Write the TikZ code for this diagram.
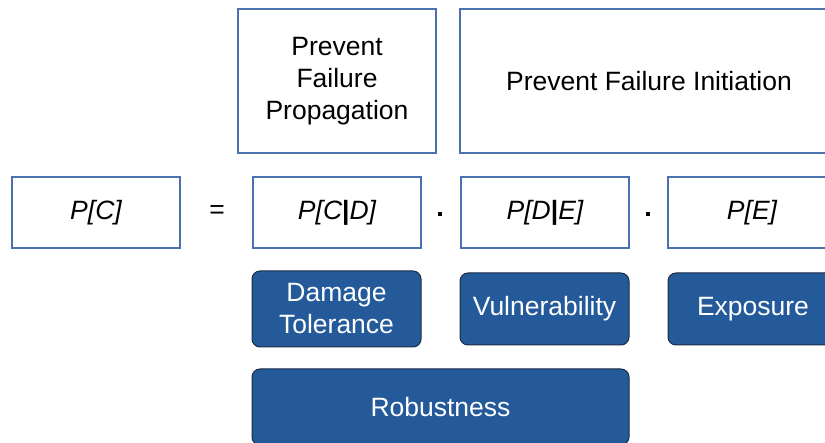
\documentclass[tikz,border=0pt]{standalone}
\usepackage{fontspec}
\setmainfont{Liberation Sans}
\definecolor{boxline}{HTML}{4A72B0}
\definecolor{bluefill}{HTML}{245A9A}
\definecolor{blueline}{HTML}{1B2D45}
\begin{document}
\begin{tikzpicture}[x=1pt,y=-1pt,
  every node/.style={font=\fontsize{26.5}{32}\selectfont, align=center, inner sep=0pt},
  wbox/.style={draw=boxline, line width=1.1pt, fill=white},
  bbox/.style={draw=blueline, line width=1pt, fill=bluefill, rounded corners=8pt, text=white},
  op/.style={},
  dotop/.style={fill=black, minimum size=4pt}]
\useasboundingbox (0,0) rectangle (825,443);
\clip (0,0) rectangle (825,443);
\fill[white] (0,0) rectangle (825,443);
% top boxes
\node[wbox, minimum width=198pt, minimum height=144pt] (prop) at (337,81) {Prevent\\Failure\\Propagation};
\node[wbox, minimum width=378pt, minimum height=144pt] (init) at (649,81) {Prevent Failure Initiation};
% formula row
\node[wbox, minimum width=168pt, minimum height=71pt] (pc) at (96,212.5) {\itshape P[C]};
\node[op] (eq) at (217,212) {=};
\node[wbox, minimum width=168pt, minimum height=71pt] (pcd) at (337,212.5) {\itshape P[C{\upshape\bfseries|}D]};
\node[dotop] (dot1) at (440,214) {};
\node[wbox, minimum width=168pt, minimum height=71pt] (pde) at (545,212.5) {\itshape P[D{\upshape\bfseries|}E]};
\node[dotop] (dot2) at (648,214) {};
\node[wbox, minimum width=168pt, minimum height=71pt] (pe) at (752,212.5) {\itshape P[E]};
% blue boxes
\node[bbox, minimum width=169pt, minimum height=76pt] (dt) at (336.5,309) {Damage\\Tolerance};
\node[bbox, minimum width=169pt, minimum height=72pt] (vul) at (544.5,309) {Vulnerability};
\node[bbox, minimum width=170pt, minimum height=72pt] (exp) at (753,309) {Exposure};
\node[bbox, minimum width=377pt, minimum height=76pt] (rob) at (440.5,407) {Robustness};
\end{tikzpicture}
\end{document}
